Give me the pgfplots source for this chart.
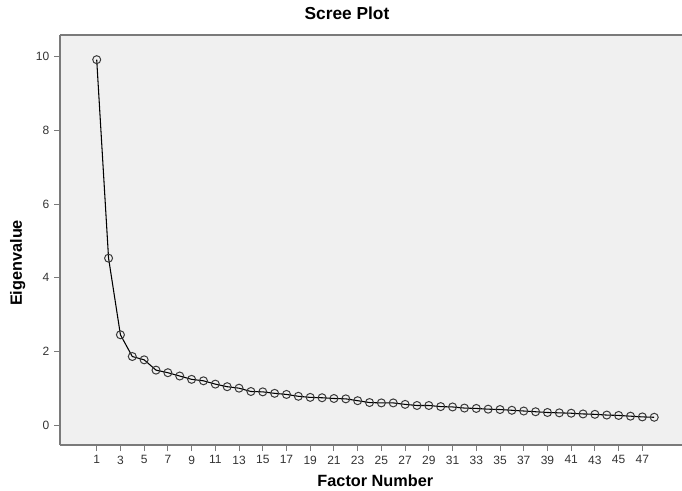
\documentclass[border=0pt]{standalone}
\usepackage{fontspec}
\setmainfont{Liberation Sans}
\usepackage{pgfplots}
\pgfplotsset{compat=1.18}
\definecolor{bgc}{HTML}{F0F0F0}
\definecolor{framec}{HTML}{7A7A7A}
\definecolor{markc}{HTML}{3A3A3A}
\begin{document}
\begin{tikzpicture}
\useasboundingbox (-45pt,-33.75pt) rectangle (466.5pt,333.75pt);
\begin{axis}[
  scale only axis,
  width=480pt, height=307.5pt,
  xmin=-2.094, xmax=51.86,
  ymin=-0.543, ymax=10.59,
  axis x line*=bottom, axis y line*=left,
  axis line style={-, draw=framec, line width=1pt},
  axis background/.style={fill=bgc},
  xtick={1,3,...,47},
  ytick={0,2,4,6,8,10},
  tick align=outside,
  major tick length=4.5pt,
  tick style={draw=framec, line width=0.75pt},
  /pgf/number format/assume math mode=true,
  tick label style={font=\fontsize{9}{10}\selectfont, text=black!80},
  title={Scree Plot},
  title style={font=\fontsize{13}{15}\selectfont\bfseries, at={(axis description cs:0.4484,1)}, anchor=base, yshift=5.5pt, inner sep=0pt},
  xlabel={Factor Number},
  xlabel style={font=\fontsize{12.2}{14}\selectfont\bfseries, at={(axis description cs:0.4927,0)}, anchor=base, yshift=-31pt, inner sep=0pt},
  ylabel={Eigenvalue},
  ylabel style={font=\fontsize{12.2}{14}\selectfont\bfseries, at={(axis description cs:-0.0594,0.444)}, anchor=base, inner sep=0pt},
  clip=false,
]
\addplot[black, line width=0.8pt, mark=o, mark size=3pt,
  mark options={draw=markc, line width=0.75pt}] coordinates {
(1,9.92) (2,4.53) (3,2.45) (4,1.86) (5,1.77) (6,1.49) (7,1.42) (8,1.33)
(9,1.24) (10,1.20) (11,1.11) (12,1.04) (13,1.00) (14,0.91) (15,0.90) (16,0.86)
(17,0.83) (18,0.78) (19,0.75) (20,0.74) (21,0.72) (22,0.71) (23,0.66) (24,0.61)
(25,0.60) (26,0.60) (27,0.56) (28,0.53) (29,0.53) (30,0.50) (31,0.49) (32,0.46)
(33,0.45) (34,0.43) (35,0.42) (36,0.40) (37,0.38) (38,0.36) (39,0.34) (40,0.33)
(41,0.32) (42,0.30) (43,0.29) (44,0.27) (45,0.26) (46,0.24) (47,0.22) (48,0.21)
};
\draw[framec, line width=1pt] (rel axis cs:0,1) -- (rel axis cs:1,1);
\end{axis}
\end{tikzpicture}
\end{document}
